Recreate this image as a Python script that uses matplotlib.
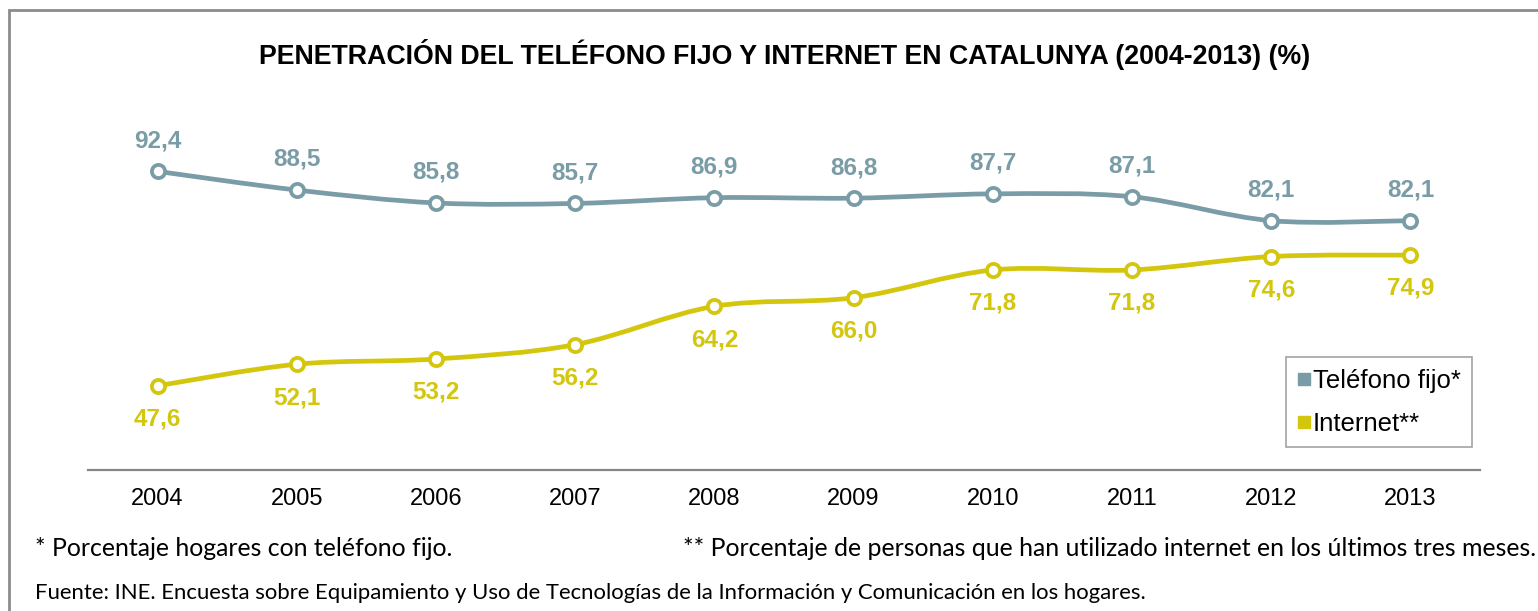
import matplotlib
matplotlib.use("Agg")
import matplotlib.pyplot as plt
from matplotlib.path import Path
from matplotlib.patches import PathPatch, Rectangle
from matplotlib.lines import Line2D

# Data
years = ["2004", "2005", "2006", "2007", "2008", "2009", "2010", "2011", "2012", "2013"]
telefono_fijo = [92.4, 88.5, 85.8, 85.7, 86.9, 86.8, 87.7, 87.1, 82.1, 82.1]
internet = [47.6, 52.1, 53.2, 56.2, 64.2, 66.0, 71.8, 71.8, 74.6, 74.9]

title = "PENETRACIÓN DEL TELÉFONO FIJO Y INTERNET EN CATALUNYA (2004-2013) (%)"
note_fijo = "* Porcentaje hogares con teléfono fijo."
note_internet = "** Porcentaje de personas que han utilizado internet en los últimos tres meses."
source = ("Fuente: INE. Encuesta sobre Equipamiento y Uso de Tecnologías de la "
          "Información y Comunicación en los hogares.")

COLOR_FIJO = "#7A9CA6"
COLOR_INTERNET = "#D3C60C"

W, H = 1538, 611
plt.rcParams["font.family"] = ["Liberation Sans", "DejaVu Sans"]


def smooth_path(xs, ys):
    """Bezier path through the points, similar to Excel's smoothed lines."""
    verts = [(xs[0], ys[0])]
    codes = [Path.MOVETO]
    n = len(xs)
    for i in range(n - 1):
        x0, y0 = (xs[i - 1], ys[i - 1]) if i > 0 else (xs[i], ys[i])
        x1, y1 = xs[i], ys[i]
        x2, y2 = xs[i + 1], ys[i + 1]
        x3, y3 = (xs[i + 2], ys[i + 2]) if i + 2 < n else (x2, y2)
        c1 = (x1 + (x2 - x0) / 6, y1 + (y2 - y0) / 6)
        c2 = (x2 - (x3 - x1) / 6, y2 - (y3 - y1) / 6)
        verts += [c1, c2, (x2, y2)]
        codes += [Path.CURVE4] * 3
    return Path(verts, codes)


fig = plt.figure(figsize=(W / 100, H / 100), dpi=100)
ax = fig.add_axes([88 / W, 1 - 470 / H, (1480 - 88) / W, 335 / H])

x = list(range(len(years)))

for values, color, dy in [(telefono_fijo, COLOR_FIJO, 22), (internet, COLOR_INTERNET, -24)]:
    ax.add_patch(PathPatch(smooth_path(x, values), fill=False, edgecolor=color,
                           lw=3.4, capstyle="round", zorder=2))
    ax.plot(x, values, linestyle="none", marker="o", ms=9.5, mfc="white",
            mec=color, mew=2.7, zorder=3)
    for xi, v in zip(x, values):
        ax.annotate(f"{v:.1f}".replace(".", ","), (xi, v), xytext=(0, dy),
                    textcoords="offset points", ha="center", va="center",
                    fontsize=17.5, fontweight="bold", color=color)

ax.set_xlim(-0.5, len(years) - 0.5)
ax.set_ylim(30, 100)
ax.set_xticks(x)
ax.set_xticklabels(years, fontsize=17)
ax.set_yticks([])
ax.tick_params(axis="x", length=0, pad=13)
for side in ["top", "left", "right"]:
    ax.spines[side].set_visible(False)
ax.spines["bottom"].set_color("#868686")
ax.spines["bottom"].set_linewidth(1.6)

handles = [
    Line2D([], [], linestyle="none", marker="s", ms=9, color=COLOR_FIJO),
    Line2D([], [], linestyle="none", marker="s", ms=9, color=COLOR_INTERNET),
]
leg = ax.legend(handles, ["Teléfono fijo*", "Internet**"], loc="upper right",
                bbox_to_anchor=((1472 - 88) / (1480 - 88), (470 - 357) / 335),
                borderaxespad=0, fontsize=18.5, frameon=True, fancybox=False,
                handlelength=0.5, handletextpad=0.1, labelspacing=0.75,
                borderpad=0.45)
leg.get_frame().set_edgecolor("#8C8C8C")
leg.get_frame().set_linewidth(1.2)

fig.text(785 / W, 1 - 55 / H, title, ha="center", va="center",
         fontsize=19.3, fontweight="bold", color="black")

note_font = ["Lato", "DejaVu Sans"]
fig.text(35 / W, 1 - 548 / H, note_fijo, ha="left", va="center",
         fontsize=17.9, family=note_font)
fig.text(683 / W, 1 - 548 / H, note_internet, ha="left", va="center",
         fontsize=17.9, family=note_font)
fig.text(35 / W, 1 - 593 / H, source, ha="left", va="center",
         fontsize=15.9, family=note_font)

# outer frame (only top and left edges fall inside the image)
fig.patches.append(Rectangle((9 / W, -0.05), 1.1, 1 - 10 / H + 0.05,
                             transform=fig.transFigure, fill=False,
                             edgecolor="#8C8C8C", lw=2))

fig.savefig("out.png", dpi=100)
